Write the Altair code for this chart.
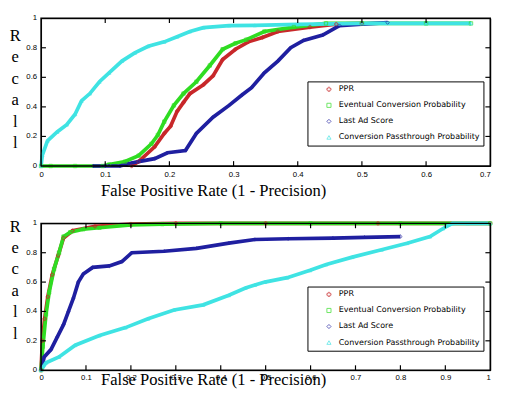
import altair as alt
import pandas as pd

series_names = ["PPR", "Eventual Conversion Probability", "Last Ad Score",
                "Conversion Passthrough Probability"]
series_colors = ["#c8282a", "#2fdc22", "#1f1fa0", "#3fe3e3"]
series_shapes = ["cross", "square", "diamond", "triangle-up"]

# ---------------- top panel ----------------
ppr_top_x = [0.141, 0.152, 0.177, 0.192, 0.202, 0.212, 0.222, 0.232, 0.253, 0.268,
             0.283, 0.303, 0.323, 0.345, 0.369, 0.419, 0.46, 0.50]
ppr_top_y = [0, 0.03, 0.13, 0.22, 0.27, 0.37, 0.43, 0.49, 0.55, 0.61,
             0.72, 0.79, 0.84, 0.87, 0.91, 0.94, 0.96, 0.965]
ecp_top_x = [0, 0.015, 0.053, 0.096, 0.106, 0.131, 0.152, 0.172, 0.182, 0.192,
             0.207, 0.222, 0.242, 0.263, 0.283, 0.303, 0.320, 0.348, 0.394, 0.444,
             0.50, 0.60, 0.67]
ecp_top_y = [0, 0, 0, 0, 0.01, 0.03, 0.07, 0.15, 0.21, 0.30,
             0.41, 0.49, 0.57, 0.68, 0.79, 0.83, 0.855, 0.91, 0.94, 0.965,
             0.965, 0.965, 0.965]
las_top_x = [0.081, 0.10, 0.123, 0.141, 0.152, 0.177, 0.197, 0.225, 0.242, 0.268,
             0.293, 0.313, 0.328, 0.348, 0.369, 0.389, 0.409, 0.439, 0.465, 0.50, 0.54]
las_top_y = [0, 0, 0, 0.02, 0.03, 0.05, 0.09, 0.105, 0.22, 0.33,
             0.41, 0.48, 0.53, 0.63, 0.71, 0.80, 0.85, 0.886, 0.95, 0.96, 0.97]
cpp_top_x = [0, 0.002, 0.010, 0.025, 0.040, 0.053, 0.063, 0.076, 0.091, 0.106,
             0.126, 0.146, 0.167, 0.192, 0.212, 0.232, 0.253, 0.293, 0.333, 0.40,
             0.45, 0.50, 0.60, 0.67]
cpp_top_y = [0, 0.074, 0.17, 0.23, 0.28, 0.35, 0.44, 0.49, 0.57, 0.63,
             0.71, 0.765, 0.81, 0.84, 0.875, 0.91, 0.936, 0.95, 0.952, 0.958,
             0.962, 0.965, 0.965, 0.965]

# ---------------- bottom panel ----------------
ppr_bot_x = [0, 0.003, 0.008, 0.015, 0.025, 0.038, 0.05, 0.07, 0.12, 0.20, 0.30, 0.50, 0.75, 1.0]
ppr_bot_y = [0, 0.2, 0.35, 0.5, 0.65, 0.78, 0.9, 0.95, 0.98, 0.995, 1.0, 1.0, 1.0, 1.0]
ecp_bot_x = [0, 0.004, 0.011, 0.018, 0.029, 0.040, 0.050, 0.065, 0.094, 0.13,
             0.20, 0.27, 0.40, 0.60, 0.80, 1.0]
ecp_bot_y = [0, 0.16, 0.38, 0.53, 0.69, 0.80, 0.91, 0.94, 0.96, 0.97,
             0.99, 0.995, 1.0, 1.0, 1.0, 1.0]
las_bot_x = [0, 0.007, 0.022, 0.036, 0.050, 0.061, 0.072, 0.083, 0.094, 0.115,
             0.152, 0.18, 0.202, 0.274, 0.346, 0.418, 0.476, 0.55, 0.65, 0.72, 0.80]
las_bot_y = [0, 0.09, 0.14, 0.225, 0.31, 0.40, 0.49, 0.60, 0.655, 0.70,
             0.71, 0.74, 0.80, 0.81, 0.83, 0.865, 0.89, 0.895, 0.90, 0.905, 0.91]
cpp_bot_x = [0, 0.011, 0.04, 0.076, 0.13, 0.188, 0.238, 0.296, 0.361, 0.418,
             0.455, 0.476, 0.498, 0.548, 0.599, 0.635, 0.693, 0.758, 0.815, 0.866,
             0.895, 0.916, 0.95, 1.0]
cpp_bot_y = [0, 0.05, 0.09, 0.17, 0.236, 0.29, 0.35, 0.41, 0.445, 0.51,
             0.56, 0.58, 0.60, 0.63, 0.68, 0.72, 0.77, 0.82, 0.865, 0.91,
             0.965, 1.0, 1.0, 1.0]

x_ticks_top = [0, 0.1, 0.2, 0.3, 0.4, 0.5, 0.6, 0.7]
x_ticks_bot = [0, 0.1, 0.2, 0.3, 0.4, 0.5, 0.6, 0.7, 0.8, 0.9, 1.0]
y_ticks = [0, 0.2, 0.4, 0.6, 0.8, 1.0]
y_tick_labels = ["0", "0.2", "0.4", "0.6", "0.8", "1"]

x_title = "False Positive Rate (1 - Precision)"
y_title = ["R", "e", "c", "a", "l", "l"]


def make_df(xs_list, ys_list):
    rows = []
    for name, xs, ys in zip(series_names, xs_list, ys_list):
        for i, (x, y) in enumerate(zip(xs, ys)):
            rows.append({"series": name, "x": x, "y": y, "i": i})
    return pd.DataFrame(rows)


def panel(df, xmax, xticks, W, H, legend_y, xtitle_y, ytitle_y, xlabel_pad):
    xscale = alt.Scale(domain=[0, xmax], nice=False, zero=False)
    yscale = alt.Scale(domain=[0, 1], nice=False)
    legend = alt.Legend(title=None, orient="none", legendX=274, legendY=legend_y,
                        strokeColor="black", fillColor="white", padding=4,
                        labelFont="DejaVu Sans", labelFontSize=8.2, labelColor="black",
                        symbolSize=18, symbolStrokeWidth=1, symbolOffset=14,
                        labelOffset=6, rowPadding=6.5)
    xaxis = alt.Axis(values=xticks, format="~g", title=x_title, grid=False,
                     domain=False, ticks=False, labelPadding=xlabel_pad,
                     labelOverlap=False, labelFlush=False,
                     labelFont="Liberation Sans", labelFontSize=8, labelColor="black",
                     labelAlign={"condition": {"test": f"datum.value >= {xmax}", "value": "right"},
                                 "value": "center"},
                     titleX=177, titleY=xtitle_y, titleAlign="center",
                     titleBaseline="alphabetic", titleFont="Liberation Serif",
                     titleFontSize=17, titleFontWeight="normal", titleColor="black")
    yaxis = alt.Axis(values=y_ticks, title=y_title, grid=False, labels=False,
                     domain=False, ticks=False,
                     titleAngle=0, titleAlign="center", titleBaseline="alphabetic",
                     titleX=-27, titleY=ytitle_y, titleLineHeight=22,
                     titleFont="Liberation Serif", titleFontSize=17,
                     titleFontWeight="normal", titleColor="black")
    base = alt.Chart(df)
    lines = base.mark_line(strokeWidth=3.8).encode(
        x=alt.X("x:Q", scale=xscale, axis=xaxis),
        y=alt.Y("y:Q", scale=yscale, axis=yaxis),
        color=alt.Color("series:N", scale=alt.Scale(domain=series_names, range=series_colors),
                        legend=legend),
        order="i:Q",
    )
    points = base.mark_point(filled=False, size=12, strokeWidth=1).encode(
        x=alt.X("x:Q", scale=xscale),
        y=alt.Y("y:Q", scale=yscale),
        color=alt.Color("series:N", scale=alt.Scale(domain=series_names, range=series_colors),
                        legend=legend),
        shape=alt.Shape("series:N", scale=alt.Scale(domain=series_names, range=series_shapes),
                        legend=legend),
    )
    inner_x = pd.DataFrame({"x": xticks[1:-1]})
    inner_y = pd.DataFrame({"y": y_ticks[1:-1]})
    ylab_df = pd.DataFrame({"y": y_ticks, "label": y_tick_labels})
    frame = alt.Chart(pd.DataFrame({"f": [1]})).mark_rect(
        fill="transparent", stroke="black", strokeWidth=1.5).encode(
        x=alt.value(0), x2=alt.value(W), y=alt.value(0), y2=alt.value(H))
    xt_b = alt.Chart(inner_x).mark_rule(color="black", strokeWidth=1.2).encode(
        x=alt.X("x:Q", scale=xscale), y=alt.value(H), y2=alt.value(H - 5))
    xt_t = alt.Chart(inner_x).mark_rule(color="black", strokeWidth=1.2).encode(
        x=alt.X("x:Q", scale=xscale), y=alt.value(0), y2=alt.value(5))
    yt_l = alt.Chart(inner_y).mark_rule(color="black", strokeWidth=1.2).encode(
        y=alt.Y("y:Q", scale=yscale), x=alt.value(0), x2=alt.value(5))
    yt_r = alt.Chart(inner_y).mark_rule(color="black", strokeWidth=1.2).encode(
        y=alt.Y("y:Q", scale=yscale), x=alt.value(W), x2=alt.value(W - 5))
    ylab = alt.Chart(ylab_df).mark_text(align="right", baseline="middle", dx=-4,
                                        font="Liberation Sans", fontSize=8,
                                        color="black").encode(
        y=alt.Y("y:Q", scale=yscale), x=alt.value(0), text="label:N")
    return alt.layer(lines, points, frame, xt_b, xt_t, yt_l, yt_r, ylab).properties(
        width=W, height=H)


df_top = make_df([ppr_top_x, ecp_top_x, las_top_x, cpp_top_x],
                 [ppr_top_y, ecp_top_y, las_top_y, cpp_top_y])
df_bot = make_df([ppr_bot_x, ecp_bot_x, las_bot_x, cpp_bot_x],
                 [ppr_bot_y, ecp_bot_y, las_bot_y, cpp_bot_y])

top = panel(df_top, 0.7, x_ticks_top, 462, 152, 65, 30, 23, 5)
bot = panel(df_bot, 1.0, x_ticks_bot, 462, 151, 65, 15, 8, 4)

chart = alt.vconcat(top, bot, spacing=59, bounds="flush").resolve_scale(
    color="independent", shape="independent"
).properties(
    padding={"left": 0, "top": 0, "right": 0, "bottom": 0}
).configure_view(stroke="black", strokeWidth=1)

chart.save("out.html", embed_options={"renderer": "svg", "actions": False})
